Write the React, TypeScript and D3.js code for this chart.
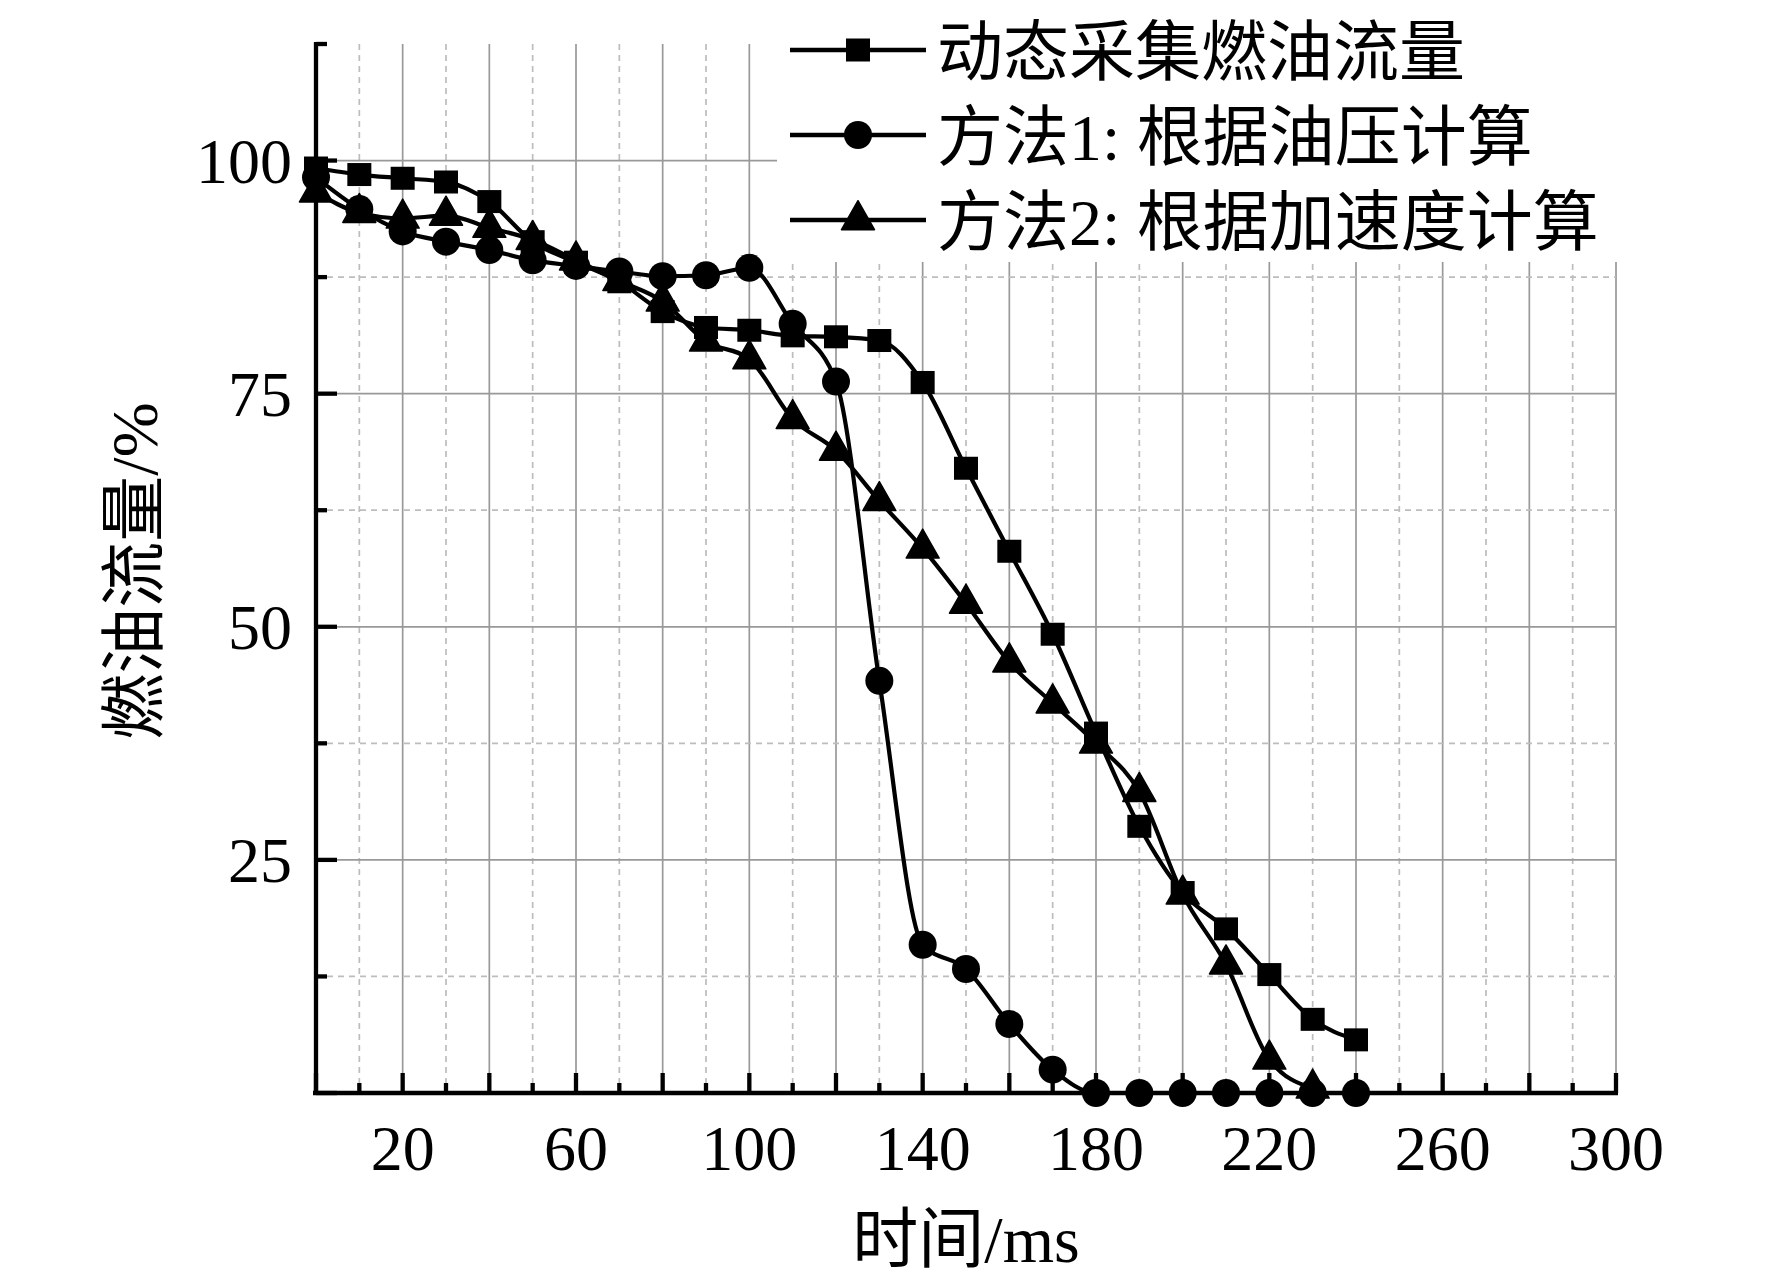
import React from "react";
import * as d3 from "d3";

const times = [0, 10, 20, 30, 40, 50, 60, 70, 80, 90, 100, 110, 120, 130, 140, 150, 160, 170, 180, 190, 200, 210, 220, 230, 240];
const measured = [99.2, 98.5, 98.1, 97.7, 95.6, 91.3, 89.1, 87.0, 83.8, 82.1, 81.8, 81.2, 81.1, 80.7, 76.2, 67.0, 58.1, 49.2, 38.6, 28.6, 21.5, 17.6, 12.7, 7.9, 5.7];
const method1 = [98.2, 94.8, 92.4, 91.3, 90.4, 89.3, 88.7, 88.1, 87.6, 87.7, 88.5, 82.5, 76.3, 44.2, 15.9, 13.3, 7.4, 2.5, 0, 0, 0, 0, 0, 0, 0];
const method2 = [96.6, 94.4, 93.8, 94.1, 92.8, 91.5, 89.3, 87.1, 84.9, 80.6, 78.7, 72.3, 68.9, 63.5, 58.4, 52.5, 46.2, 41.8, 37.5, 32.3, 21.3, 13.8, 3.6, 0.5];
const seriesNames = ["动态采集燃油流量", "方法1: 根据油压计算", "方法2: 根据加速度计算"];
const xLabelTicks = [20, 60, 100, 140, 180, 220, 260, 300];
const xMajorTicks = d3.range(0, 301, 20);
const xMinorTicks = d3.range(10, 300, 20);
const yMajorTicks = [0, 25, 50, 75, 100];
const yMinorTicks = [12.5, 37.5, 62.5, 87.5, 112.5];
const xTitle = "时间/ms";
const yTitle = "燃油流量/%";

const W = 1772;
const H = 1281;
const FONT = "'Liberation Serif', 'Times New Roman', 'Noto Sans CJK SC', serif";

const x = d3.scaleLinear().domain([0, 300]).range([316, 1616]);
const y = d3.scaleLinear().domain([0, 112.5]).range([1093, 44]);

type Shape = "square" | "circle" | "triangle";

function Marker({ cx, cy, shape }: { cx: number; cy: number; shape: Shape }) {
  if (shape === "square") return <rect x={cx - 12} y={cy - 11.5} width={24} height={23} fill="#000" />;
  if (shape === "circle") return <circle cx={cx} cy={cy} r={14} fill="#000" />;
  const s = 33;
  const h = 29;
  return <path d={`M${cx},${cy - (h * 2) / 3}L${cx + s / 2},${cy + h / 3}L${cx - s / 2},${cy + h / 3}Z`} fill="#000" strokeLinejoin="round" stroke="#000" strokeWidth={1.5} />;
}

export default function App() {
  const line = d3
    .line<[number, number]>()
    .x((d) => x(d[0]))
    .y((d) => y(d[1]))
    .curve(d3.curveMonotoneX);
  const series: { vals: number[]; shape: Shape }[] = [
    { vals: measured, shape: "square" },
    { vals: method1, shape: "circle" },
    { vals: method2, shape: "triangle" },
  ];
  const legendRows = [50, 135, 220];
  return (
    <div style={{ position: "absolute", left: 0, top: 0 }}>
      <svg width={W} height={H} style={{ display: "block", background: "#fff" }}>
        {/* grid */}
        {xMinorTicks.map((t) => (
          <line key={"gxm" + t} x1={x(t)} x2={x(t)} y1={y(112.5)} y2={y(0)} stroke="#bdbdbd" strokeWidth={1.7} strokeDasharray="6,5" />
        ))}
        {xMajorTicks.filter((t) => t > 0).map((t) => (
          <line key={"gx" + t} x1={x(t)} x2={x(t)} y1={y(112.5)} y2={y(0)} stroke="#999" strokeWidth={1.7} />
        ))}
        {yMinorTicks.filter((t) => t < 112).map((t) => (
          <line key={"gym" + t} x1={x(0)} x2={x(300)} y1={y(t)} y2={y(t)} stroke="#bdbdbd" strokeWidth={1.7} strokeDasharray="6,5" />
        ))}
        {yMajorTicks.filter((t) => t > 0).map((t) => (
          <line key={"gy" + t} x1={x(0)} x2={x(300)} y1={y(t)} y2={y(t)} stroke="#999" strokeWidth={1.7} />
        ))}
        {/* legend background */}
        <rect x={777} y={0} width={1000} height={262} fill="#fff" />
        {/* axes */}
        <line x1={x(0)} x2={x(0)} y1={y(112.5) - 2} y2={y(0) + 2} stroke="#000" strokeWidth={4.3} />
        <line x1={x(0) - 3} x2={x(300) + 2} y1={y(0)} y2={y(0)} stroke="#000" strokeWidth={4.3} />
        {yMajorTicks.map((t) => (
          <line key={"ty" + t} x1={x(0)} x2={x(0) + 21} y1={y(t)} y2={y(t)} stroke="#000" strokeWidth={4.3} />
        ))}
        {yMinorTicks.map((t) => (
          <line key={"tym" + t} x1={x(0)} x2={x(0) + 11} y1={y(t)} y2={y(t)} stroke="#000" strokeWidth={4.3} />
        ))}
        {xMajorTicks.map((t) => (
          <line key={"tx" + t} x1={x(t)} x2={x(t)} y1={y(0)} y2={y(0) - 20} stroke="#000" strokeWidth={4.3} />
        ))}
        {xMinorTicks.map((t) => (
          <line key={"txm" + t} x1={x(t)} x2={x(t)} y1={y(0)} y2={y(0) - 10} stroke="#000" strokeWidth={4.3} />
        ))}
        {/* tick labels */}
        {xLabelTicks.map((t) => (
          <text key={"lx" + t} x={x(t)} y={1170} textAnchor="middle" fontFamily={FONT} fontSize={64} fill="#000">
            {t}
          </text>
        ))}
        {yMajorTicks.filter((t) => t > 0).map((t) => (
          <text key={"ly" + t} x={292} y={y(t) + 22} textAnchor="end" fontFamily={FONT} fontSize={64} fill="#000">
            {t}
          </text>
        ))}
        {/* axis titles */}
        <text x={966} y={1262} textAnchor="middle" fontFamily={FONT} fontSize={66} fill="#000">
          {xTitle}
        </text>
        <text transform="translate(157,571) rotate(-90)" textAnchor="middle" fontFamily={FONT} fontSize={66} fill="#000">
          {yTitle}
        </text>
        {/* series */}
        {series.map((s, i) => {
          const pts = s.vals.map((v, j) => [times[j], v] as [number, number]);
          return (
            <g key={"s" + i}>
              <path d={line(pts) || ""} fill="none" stroke="#000" strokeWidth={4.2} />
              {pts.map((p, j) => (
                <Marker key={j} cx={x(p[0])} cy={y(p[1])} shape={s.shape} />
              ))}
            </g>
          );
        })}
        {/* legend */}
        {series.map((s, i) => (
          <g key={"lg" + i}>
            <line x1={790} x2={926} y1={legendRows[i]} y2={legendRows[i]} stroke="#000" strokeWidth={4.5} />
            <Marker cx={858} cy={legendRows[i]} shape={s.shape} />
            <text x={937} y={legendRows[i] + 25} fontFamily={FONT} fontSize={66} fill="#000">
              {seriesNames[i]}
            </text>
          </g>
        ))}
      </svg>
    </div>
  );
}
